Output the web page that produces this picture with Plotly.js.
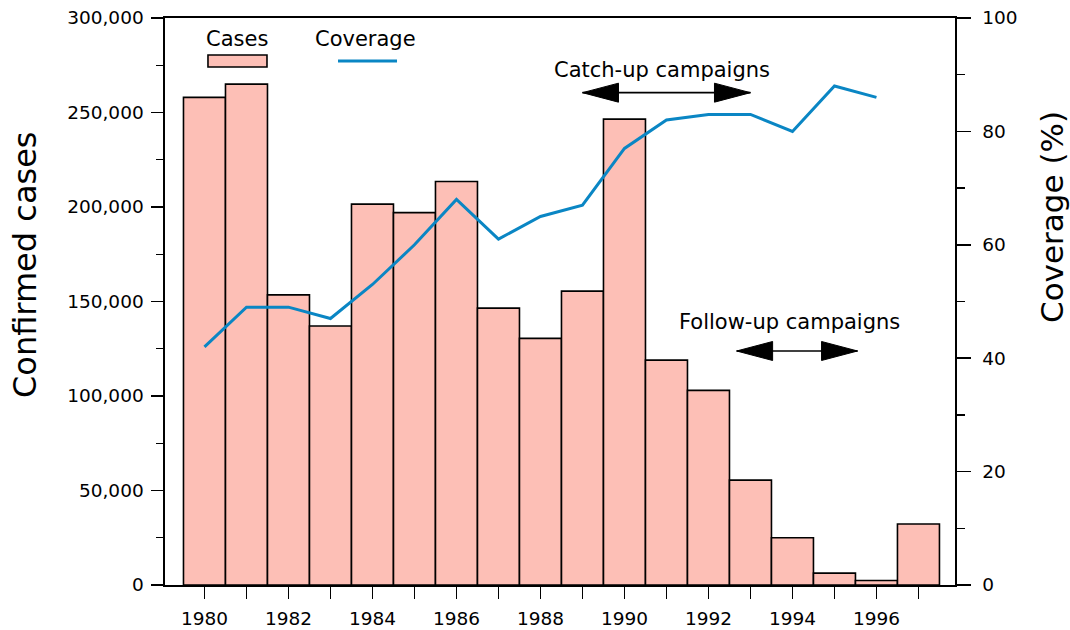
<!DOCTYPE html>
<html>
<head>
<meta charset="utf-8">
<script src="https://cdn.plot.ly/plotly-3.0.1.min.js"></script>
<style>html,body{margin:0;padding:0;background:#fff;}#chart{width:1070px;height:630px;}</style>
</head>
<body>
<div id="chart"></div>
<script>
// ---- data ----
const years = [1980,1981,1982,1983,1984,1985,1986,1987,1988,1989,1990,1991,1992,1993,1994,1995,1996,1997];
const cases = [258000,265000,153500,137000,201500,197000,213500,146500,130500,155500,246500,119000,103000,55500,25000,6300,2400,32300];
const coverageYears = [1980,1981,1982,1983,1984,1985,1986,1987,1988,1989,1990,1991,1992,1993,1994,1995,1996];
const coverage = [42,49,49,47,53,60,68,61,65,67,77,82,83,83,80,88,86];
const xTickLabels = ['1980','','1982','','1984','','1986','','1988','','1990','','1992','','1994','','1996',''];
const catchUp = {label:'Catch-up campaigns', start:1989, end:1993};
const followUp = {label:'Follow-up campaigns', start:1992.67, end:1995.55};

const FONT = 'DejaVu Sans, Verdana, sans-serif';
const barColor = '#fdbfb6';
const lineColor = '#0a86c4';

const traces = [
  {type:'bar', x:years, y:cases, name:'Cases', width:1,
   marker:{color:barColor, line:{color:'#000', width:1.6}}, yaxis:'y', hoverinfo:'x+y'},
  {type:'scatter', mode:'lines', x:coverageYears, y:coverage, name:'Coverage', yaxis:'y2',
   line:{color:lineColor, width:3}}
];

function arrowShapes(a, yPaper){
  const head = 'M0,0 L36,9.5 L36,-9.5 Z';
  const headR = 'M0,0 L-36,9.5 L-36,-9.5 Z';
  return [
    {type:'line', xref:'x', yref:'paper', x0:a.start, x1:a.end, y0:yPaper, y1:yPaper, line:{color:'#000', width:1.6}},
    {type:'path', xref:'x', yref:'paper', xsizemode:'pixel', ysizemode:'pixel', xanchor:a.start, yanchor:yPaper,
     path:head, fillcolor:'#000', line:{color:'#000', width:1}},
    {type:'path', xref:'x', yref:'paper', xsizemode:'pixel', ysizemode:'pixel', xanchor:a.end, yanchor:yPaper,
     path:headR, fillcolor:'#000', line:{color:'#000', width:1}}
  ];
}

const shapes = [].concat(
  arrowShapes(catchUp, 0.8683),
  arrowShapes(followUp, 0.4127),
  [
    {type:'rect', xref:'paper', yref:'paper', x0:0.0544, x1:0.1291, y0:0.9136, y1:0.9347,
     fillcolor:barColor, line:{color:'#000', width:1.6}},
    {type:'line', xref:'paper', yref:'paper', x0:0.219, x1:0.2937, y0:0.9242, y1:0.9242,
     line:{color:lineColor, width:3}}
  ]
);

const annotations = [
  {xref:'paper', yref:'paper', x:0.0911, y:0.963, text:'Cases', showarrow:false, xanchor:'center', yanchor:'middle', font:{size:21}},
  {xref:'paper', yref:'paper', x:0.2544, y:0.963, text:'Coverage', showarrow:false, xanchor:'center', yanchor:'middle', font:{size:21}},
  {xref:'x', yref:'paper', x:1990.9, y:0.908, text:catchUp.label, showarrow:false, xanchor:'center', yanchor:'middle', font:{size:21}},
  {xref:'x', yref:'paper', x:1993.92, y:0.464, text:followUp.label, showarrow:false, xanchor:'center', yanchor:'middle', font:{size:21}},
  {xref:'paper', yref:'paper', x:(25-165)/790, y:(585-265)/567, text:'Confirmed cases', textangle:-90, showarrow:false, xanchor:'center', yanchor:'middle', font:{size:32}},
  {xref:'paper', yref:'paper', x:(1052-165)/790, y:(585-217)/567, text:'Coverage (%)', textangle:-90, showarrow:false, xanchor:'center', yanchor:'middle', font:{size:31}}
];

const layout = {
  width:1070, height:630,
  margin:{l:165, r:115, t:18, b:45, pad:0},
  paper_bgcolor:'#fff', plot_bgcolor:'#fff',
  font:{family:FONT, color:'#000', size:18},
  showlegend:false,
  bargap:0,
  xaxis:{range:[1979.06,1997.87], tickvals:years, ticktext:xTickLabels, ticks:'outside', ticklen:12, tickwidth:1.6, tickcolor:'#000',
         showline:true, linecolor:'#000', linewidth:1.6, mirror:true, showgrid:false, zeroline:false, tickfont:{size:18.5}, ticklabelstandoff:4},
  yaxis:{range:[0,300000], dtick:50000, tickformat:',d', ticks:'outside', ticklen:12, tickwidth:1.6, tickcolor:'#000',
         showline:true, linecolor:'#000', linewidth:1.6, showgrid:false, zeroline:false, tickfont:{size:18.5}, ticklabelstandoff:4,
         minor:{dtick:25000, ticks:'outside', ticklen:7, tickwidth:1.4, tickcolor:'#000', showgrid:false}},
  yaxis2:{range:[0,100], dtick:20, overlaying:'y', side:'right', ticks:'outside', ticklen:14, tickwidth:1.6, tickcolor:'#000',
          showline:true, linecolor:'#000', linewidth:1.6, showgrid:false, zeroline:false, tickfont:{size:18.5}, ticklabelstandoff:8,
          minor:{dtick:10, ticks:'outside', ticklen:8, tickwidth:1.4, tickcolor:'#000', showgrid:false}},
  shapes:shapes,
  annotations:annotations
};

Plotly.newPlot('chart', traces, layout, {displayModeBar:false, staticPlot:true});
</script>
</body>
</html>
